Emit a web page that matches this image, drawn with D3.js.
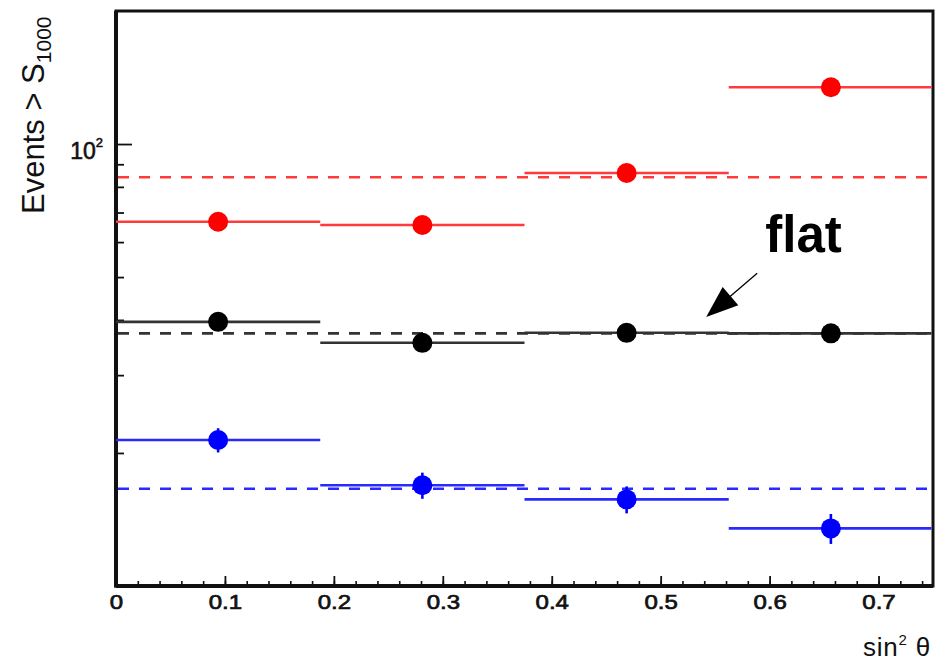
<!DOCTYPE html>
<html>
<head>
<meta charset="utf-8">
<script src="https://cdn.jsdelivr.net/npm/d3@7"></script>
<style>
  html, body { margin: 0; padding: 0; background: #fff; }
  svg { display: block; font-family: "Liberation Sans", Arial, Helvetica, sans-serif; }
</style>
</head>
<body>
<svg id="chart" width="946" height="664"></svg>
<script>
// sin^2(theta) bins (edges, width 0.1875)
const binEdges = [0, 0.1875, 0.375, 0.5625, 0.75];

// Events above S1000 per bin, three energy thresholds
const redValues   = [66.7, 65.6, 86.0, 134.4];
const redErrors   = [1.8, 1.8, 2.2, 3.4];
const redMean     = 84.1;

const blackValues = [39.6, 35.5, 37.4, 37.3];
const blackErrors = [1.0, 1.0, 1.0, 1.0];
const blackMean   = 37.3;

const blueValues  = [21.4, 16.9, 15.7, 13.5];
const blueErrors  = [1.35, 1.15, 1.1, 1.05];
const blueMean    = 16.6;

const xMajorTicks = [0, 0.1, 0.2, 0.3, 0.4, 0.5, 0.6, 0.7];
const xMinorTicks = d3.range(0, 0.7501, 0.02).map(d => +d.toFixed(2));
const yMajorTicks = [100];
const yMinorTicks = [20, 30, 40, 50, 60, 70, 80, 90];

// annotation: label and arrow in data units
const noteText = "flat";
const notePos  = { x: 0.596, y: 57.0 };
const arrowFrom = { x: 0.5886, y: 51.0 };
const arrowTo   = { x: 0.5418, y: 40.6 };

const series = [
  { color: "#ff0000", line: "#ff3a3a", values: redValues,   errors: redErrors,   mean: redMean },
  { color: "#000000", line: "#333333", values: blackValues, errors: blackErrors, mean: blackMean },
  { color: "#0000ff", line: "#2a2aff", values: blueValues,  errors: blueErrors,  mean: blueMean }
];

const plot = { left: 116, right: 933, top: 11, bottom: 586 };

const svg = d3.select("#chart");
const x = d3.scaleLinear().domain([0, 0.75]).range([plot.left, plot.right]);
const y = d3.scaleLog().domain([10, 200]).range([plot.bottom, plot.top]);

// x axis: inward ticks
const xMinor = d3.axisBottom(x).tickValues(xMinorTicks).tickSizeInner(-5).tickSizeOuter(0).tickFormat("");
svg.append("g").attr("transform", `translate(0,${plot.bottom})`).call(xMinor)
  .call(g => g.select(".domain").remove())
  .call(g => g.selectAll("line").attr("stroke", "#111").attr("stroke-width", 1.6));

const xMajor = d3.axisBottom(x).tickValues(xMajorTicks).tickSizeInner(-10).tickSizeOuter(0).tickPadding(9)
  .tickFormat(d => d === 0 ? "0" : d3.format(".1f")(d));
svg.append("g").attr("transform", `translate(0,${plot.bottom})`).call(xMajor)
  .attr("font-size", null).attr("font-family", null)
  .call(g => g.select(".domain").remove())
  .call(g => g.selectAll("line").attr("stroke", "#111").attr("stroke-width", 1.8))
  .call(g => g.selectAll("text")
    .style("font-size", "20px").attr("fill", "#111").attr("stroke", "#111").attr("stroke-width", 0.7)
    .attr("transform", "scale(1.2,1)")
    .attr("x", 0));

// y axis: log, inward ticks
const yMinor = d3.axisLeft(y).tickValues(yMinorTicks).tickSizeInner(-8).tickSizeOuter(0).tickFormat("");
svg.append("g").attr("transform", `translate(${plot.left},0)`).call(yMinor)
  .call(g => g.select(".domain").remove())
  .call(g => g.selectAll("line").attr("stroke", "#111").attr("stroke-width", 1.8));

const yMajor = d3.axisLeft(y).tickValues(yMajorTicks).tickSizeInner(-16).tickSizeOuter(0).tickFormat("");
const yMajorG = svg.append("g").attr("transform", `translate(${plot.left},0)`).call(yMajor)
  .attr("font-size", null).attr("font-family", null)
  .call(g => g.select(".domain").remove())
  .call(g => g.selectAll("line").attr("stroke", "#111").attr("stroke-width", 1.8));
yMajorG.selectAll(".tick").each(function(d) {
  const t = d3.select(this).append("text")
    .attr("x", -13).attr("dy", 14)
    .attr("text-anchor", "end").attr("fill", "#111")
    .attr("stroke", "#111").attr("stroke-width", 0.6)
    .style("font-size", "23px");
  t.append("tspan").text("10");
  t.append("tspan").style("font-size", "13px").attr("dy", -12).text(String(Math.round(Math.log10(d))));
});

// frame
svg.append("rect")
  .attr("x", plot.left).attr("y", plot.top)
  .attr("width", plot.right - plot.left).attr("height", plot.bottom - plot.top)
  .attr("fill", "none").attr("stroke", "#111").attr("stroke-width", 3);
svg.append("line").attr("x1", plot.left).attr("x2", plot.left).attr("y1", plot.top).attr("y2", plot.bottom + 1.5)
  .attr("stroke", "#111").attr("stroke-width", 4);
svg.append("line").attr("x1", plot.left).attr("x2", plot.right).attr("y1", plot.bottom).attr("y2", plot.bottom)
  .attr("stroke", "#111").attr("stroke-width", 4);

const layer = svg.append("g");

// mean levels (dashed)
layer.selectAll("line.mean").data(series).join("line").attr("class", "mean")
  .attr("x1", x(0) + 2).attr("x2", x(0.75) - 2)
  .attr("y1", s => y(s.mean)).attr("y2", s => y(s.mean))
  .attr("stroke", s => s.line).attr("stroke-width", 2.6)
  .attr("stroke-dasharray", "11,10");

// per-bin values: horizontal bin-width bars, vertical errors, markers
series.forEach(s => {
  const pts = s.values.map((v, i) => ({
    lo: binEdges[i], hi: binEdges[i + 1], c: (binEdges[i] + binEdges[i + 1]) / 2, v, e: s.errors[i]
  }));
  const g = layer.append("g");
  g.selectAll("line.bin").data(pts).join("line").attr("class", "bin")
    .attr("x1", d => x(d.lo)).attr("x2", d => Math.min(x(d.hi), plot.right - 1.5))
    .attr("y1", d => y(d.v)).attr("y2", d => y(d.v))
    .attr("stroke", s.line).attr("stroke-width", 2.6);
  g.selectAll("line.err").data(pts).join("line").attr("class", "err")
    .attr("x1", d => x(d.c)).attr("x2", d => x(d.c))
    .attr("y1", d => y(d.v - d.e)).attr("y2", d => y(d.v + d.e))
    .attr("stroke", s.color).attr("stroke-width", 2.6);
  g.selectAll("circle").data(pts).join("circle")
    .attr("cx", d => x(d.c)).attr("cy", d => y(d.v)).attr("r", 10)
    .attr("fill", s.color);
});

// annotation
svg.append("text")
  .attr("x", x(notePos.x)).attr("y", y(notePos.y))
  .style("font-size", "51px").attr("font-weight", "bold").attr("fill", "#000")
  .text(noteText);

const ax0 = x(arrowFrom.x), ay0 = y(arrowFrom.y), ax1 = x(arrowTo.x), ay1 = y(arrowTo.y);
const dx = ax1 - ax0, dy = ay1 - ay0, len = Math.hypot(dx, dy);
const ux = dx / len, uy = dy / len, headLen = 32, headHalf = 12;
const bx = ax1 - ux * headLen, by = ay1 - uy * headLen;
svg.append("line").attr("x1", ax0).attr("y1", ay0).attr("x2", bx + ux * 4).attr("y2", by + uy * 4)
  .attr("stroke", "#000").attr("stroke-width", 1.3);
svg.append("path")
  .attr("d", d3.line()([[ax1, ay1], [bx - uy * headHalf, by + ux * headHalf], [bx + uy * headHalf, by - ux * headHalf]]) + "Z")
  .attr("fill", "#000");

// axis titles
const xt = svg.append("text").attr("x", 931).attr("y", 656).attr("text-anchor", "end")
  .style("font-size", "26px").attr("fill", "#111").attr("letter-spacing", 0.8);
xt.append("tspan").text("sin");
xt.append("tspan").style("font-size", "15px").attr("dy", -11).text("2");
xt.append("tspan").attr("dy", 11).text(" θ");

const yt = svg.append("text").attr("transform", "translate(44,214) rotate(-90)")
  .style("font-size", "31px").attr("fill", "#111");
yt.append("tspan").text("Events > S");
yt.append("tspan").style("font-size", "21px").attr("dy", 7).text("1000");
</script>
</body>
</html>
